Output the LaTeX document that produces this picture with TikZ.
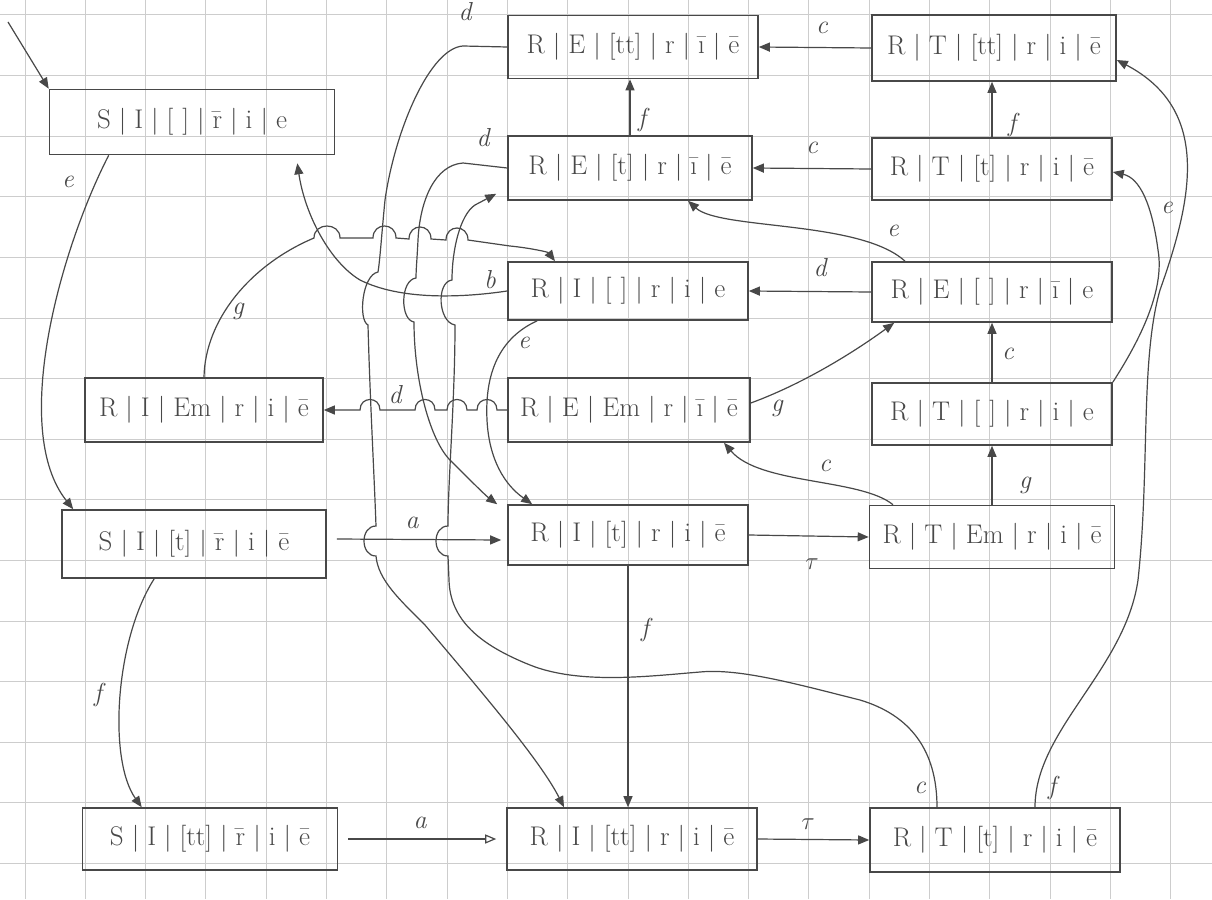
\documentclass[tikz,border=0pt]{standalone}
\usepackage{fontspec}
\usetikzlibrary{arrows.meta}
\definecolor{pencil}{RGB}{72,72,72}
\definecolor{gridc}{RGB}{205,205,205}
\newcommand{\sepbar}{\hspace{8pt}|\hspace{8pt}}
\begin{document}
\begin{tikzpicture}[x=1pt,y=-1pt,
  box/.style={draw=pencil, line width=1.6pt, inner sep=0pt, text=pencil, font=\fontsize{27}{31}\selectfont},
  lbl/.style={text=pencil, font=\fontsize{26}{30}\selectfont\itshape, inner sep=1pt},
  con/.style={draw=pencil, line width=1.2pt},
  arr/.style={con, -{Triangle[length=11pt,width=9pt]}},
  arro/.style={con, -{Triangle[open,length=11pt,width=9pt]}},
  gridline/.style={draw=gridc, line width=1pt}]
\useasboundingbox (0,0) rectangle (1212,899);
\fill[white] (0,0) rectangle (1212,899);
% graph paper
\foreach \i in {0,...,19} \draw[gridline] ({25+60.3*\i},0) -- ({25+60.3*\i},899);
\foreach \j in {0,...,14} \draw[gridline] (0,{15+60.6*\j}) -- (1212,{15+60.6*\j});

% states
\node[box, minimum width=285pt, minimum height=65pt] (S1) at (192,122) {S\sepbar I\sepbar [\,\,]\sepbar \={r}\sepbar i\sepbar e};
\node[box, minimum width=250pt, minimum height=63pt] (REtt) at (633,47) {R\sepbar E\sepbar [tt]\sepbar r\sepbar \={\i}\sepbar \={e}};
\node[box, minimum width=244pt, minimum height=66pt] (RTtt) at (994,48) {R\sepbar T\sepbar [tt]\sepbar r\sepbar i\sepbar \={e}};
\node[box, minimum width=244pt, minimum height=64pt] (REt) at (630,168) {R\sepbar E\sepbar [t]\sepbar r\sepbar \={\i}\sepbar \={e}};
\node[box, minimum width=240pt, minimum height=62pt] (RTt) at (992,169) {R\sepbar T\sepbar [t]\sepbar r\sepbar i\sepbar \={e}};
\node[box, minimum width=240pt, minimum height=58pt] (RI0) at (628,291) {R\sepbar I\sepbar [\,\,]\sepbar r\sepbar i\sepbar e};
\node[box, minimum width=240pt, minimum height=60pt] (RE0) at (992,292) {R\sepbar E\sepbar [\,\,]\sepbar r\sepbar \={\i}\sepbar e};
\node[box, minimum width=238pt, minimum height=64pt] (RIEm) at (204,410) {R\sepbar I\sepbar Em\sepbar r\sepbar i\sepbar \={e}};
\node[box, minimum width=242pt, minimum height=64pt] (REEm) at (629,410) {R\sepbar E\sepbar Em\sepbar r\sepbar \={\i}\sepbar \={e}};
\node[box, minimum width=240pt, minimum height=62pt] (RT0) at (992,414) {R\sepbar T\sepbar [\,\,]\sepbar r\sepbar i\sepbar e};
\node[box, minimum width=264pt, minimum height=68pt] (SIt) at (194,544) {S\sepbar I\sepbar [t]\sepbar \={r}\sepbar i\sepbar \={e}};
\node[box, minimum width=240pt, minimum height=60pt] (RIt) at (628,535) {R\sepbar I\sepbar [t]\sepbar r\sepbar i\sepbar \={e}};
\node[box, minimum width=245pt, minimum height=63pt] (RTEm) at (992,537) {R\sepbar T\sepbar Em\sepbar r\sepbar i\sepbar \={e}};
\node[box, minimum width=255pt, minimum height=62pt] (SItt) at (210,839) {S\sepbar I\sepbar [tt]\sepbar \={r}\sepbar i\sepbar \={e}};
\node[box, minimum width=250pt, minimum height=62pt] (RItt) at (632,839) {R\sepbar I\sepbar [tt]\sepbar r\sepbar i\sepbar \={e}};
\node[box, minimum width=250pt, minimum height=64pt] (RTtt2) at (995,840) {R\sepbar T\sepbar [t]\sepbar r\sepbar i\sepbar \={e}};

% initial arrow
\coordinate (start) at (8,22);
\draw[arr] (start) -- (S1.north west);

% left column
\draw[arr] ([xshift=60pt]S1.south west) .. controls (60,250) and (10,430) .. ([xshift=12pt]SIt.north west);
\node[lbl] (le1) at (68,182) {e};
\draw[arr] ([xshift=93pt]SIt.south west) .. controls (115,640) and (108,760) .. ([xshift=60pt]SItt.north west);
\node[lbl] (lf1) at (98,695) {f};

% bottom row
\draw[arro] ([xshift=10pt]SItt.east) -- ([xshift=-10pt]RItt.west);
\node[lbl] (la1) at (420,823) {a};
\draw[arr] (RItt.east) -- (RTtt2.west);
\node[lbl] (lt1) at (808,824) {$\tau$};

% row of R|I|[t]
\draw[arr] ([xshift=10pt,yshift=5pt]SIt.east) -- ([xshift=-6pt,yshift=-5pt]RIt.west);
\node[lbl] (la2) at (412,523) {a};
\draw[arr] (RIt.east) -- (RTEm.west);
\node[lbl] (lt2) at (812,564) {$\tau$};
\draw[arr] (RIt.south) -- (RIt.south |- RItt.north);
\node[lbl] (lf2) at (645,630) {f};

% right column
\draw[arr] (RTEm.north) -- (RT0.south);
\node[lbl] (lg1) at (1025,485) {g};
\draw[arr] ([xshift=-99pt]RTEm.north) .. controls (860,478) and (760,485) .. ([xshift=95pt]REEm.south);
\node[lbl] (lc1) at (825,466) {c};
\draw[arr] (RT0.north) -- (RE0.south);
\node[lbl] (lc2) at (1008,354) {c};
\draw[arr] (RE0.west) -- (RI0.east);
\node[lbl] (ld1) at (820,268) {d};
\draw[arr] ([xshift=-87pt]RE0.north) .. controls (860,220) and (720,230) .. ([xshift=58pt]REt.south);
\node[lbl] (le2) at (893,231) {e};
\draw[arr] (RTt.north) -- (RTt.north |- RTtt.south);
\node[lbl] (lf3) at (1012,125) {f};
\draw[arr] (RTt.west) -- (REt.east);
\node[lbl] (lc3) at (812,148) {c};
\draw[arr] (RTtt.west) -- (REtt.east);
\node[lbl] (lc4) at (822,28) {c};
\draw[arr] (REt.north) -- (REt.north |- REtt.south);
\node[lbl] (lf4) at (642,120) {f};
\draw[arr] ([yshift=7pt]REEm.east) .. controls (800,385) and (850,355) .. ([xshift=23pt]RE0.south west);
\node[lbl] (lg2) at (777,408) {g};

% long curves on the right edge
\draw[arr] (RT0.north east) .. controls (1140,340) and (1165,290) .. (1158,250) .. controls (1152,205) and (1140,178) .. ([yshift=-3pt]RTt.east);
\node[lbl] (le3) at (1167,208) {e};
\draw[arr] ([xshift=40pt]RTtt2.north) .. controls (1035,730) and (1125,670) .. (1138,580) .. controls (1150,470) and (1140,360) .. (1160,290) .. controls (1192,200) and (1212,110) .. ([yshift=-12pt]RTtt.east);
\node[lbl] (lf5) at (1052,788) {f};

% c from bottom right back to R|E|[t]
\draw[arr] ([xshift=-58pt]RTtt2.north) .. controls (937,750) and (910,715) .. (860,700) .. controls (800,685) and (740,668) .. (700,672) .. controls (650,676) and (580,685) .. (530,665) .. controls (480,645) and (450,620) .. (449,580) -- (448,556) .. controls (432,556) and (432,526) .. (448,526) .. controls (448,480) and (455,400) .. (455,325) .. controls (438,322) and (436,282) .. (452,280) .. controls (452,250) and (460,215) .. (475,205) -- ([xshift=-11pt,yshift=7pt]REt.south west);
\node[lbl] (lc5) at (920,788) {c};

% d from R|E|[tt] down to R|I|[tt]
\draw[arr] (REtt.west) -- (463,46) .. controls (430,48) and (395,130) .. (385,200) .. controls (382,230) and (380,260) .. (378,272) .. controls (362,275) and (358,320) .. (368,325) .. controls (370,400) and (374,470) .. (376,526) .. controls (360,526) and (360,556) .. (376,556) .. controls (378,580) and (400,600) .. (425,625) .. controls (480,690) and (540,760) .. ([xshift=-68pt]RItt.north);
\node[lbl] (ld2) at (465,12) {d};

% d from R|E|[t] down to R|I|[t]
\draw[arr] (REt.west) -- (463,163) .. controls (435,165) and (420,200) .. (418,240) .. controls (417,260) and (416,270) .. (416,278) .. controls (400,280) and (400,320) .. (414,322) .. controls (414,380) and (430,440) .. (450,460) .. controls (470,480) and (485,495) .. ([xshift=-10pt]RIt.north west);
\node[lbl] (ld3) at (483,138) {d};

% e from R|I|[] to R|I|[t]
\draw[arr] ([xshift=30pt]RI0.south west) .. controls (495,340) and (485,380) .. (487,420) .. controls (489,460) and (505,485) .. ([xshift=25pt]RIt.north west);
\node[lbl] (le4) at (524,343) {e};

% b from R|I|[] back to S
\draw[arr] (RI0.west) .. controls (460,298) and (400,300) .. (360,280) .. controls (330,262) and (305,215) .. ([xshift=-38pt,yshift=-8pt]S1.south east);
\node[lbl] (lb1) at (490,280) {b};

% d from R|E|Em to R|I|Em with jumps
\draw[arr] (REEm.west) -- (497,410) .. controls (497,396) and (477,396) .. (477,410) -- (467,410) .. controls (467,396) and (447,396) .. (447,410) -- (435,410) .. controls (435,396) and (415,396) .. (415,410) -- (380,410) .. controls (380,396) and (360,396) .. (360,410) -- (RIEm.east);
\node[lbl] (ld4) at (395,395) {d};

% g from R|I|Em to R|I|[] with jumps
\draw[arr] (RIEm.north) .. controls (205,320) and (250,265) .. (314,238) .. controls (314,222) and (340,222) .. (340,238) -- (373,238) .. controls (373,222) and (396,222) .. (396,238) -- (409,239) .. controls (409,223) and (431,223) .. (431,239) -- (446,240) .. controls (446,224) and (468,224) .. (468,240) -- (510,246) .. controls (530,248) and (548,252) .. ([xshift=-73pt]RI0.north);
\node[lbl] (lg3) at (238,311) {g};
\end{tikzpicture}
\end{document}
